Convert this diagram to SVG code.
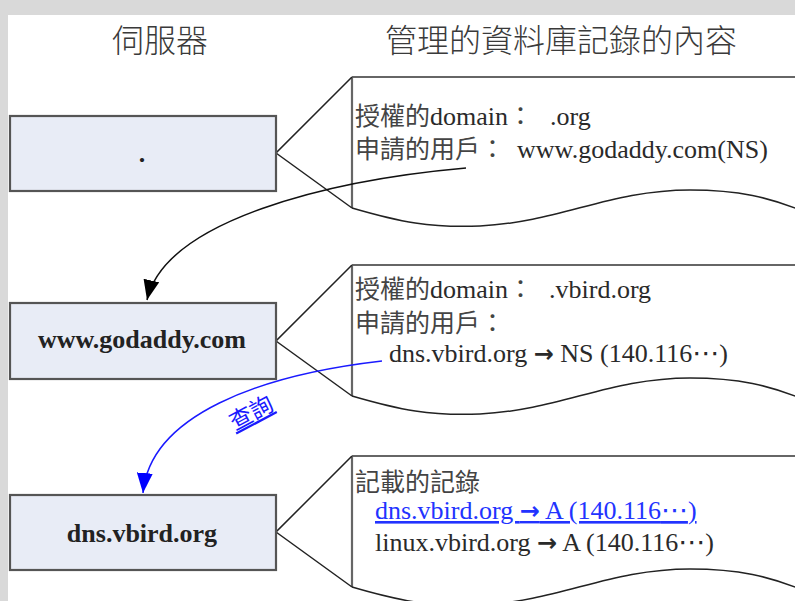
<svg xmlns="http://www.w3.org/2000/svg" width="795" height="601" viewBox="0 0 795 601">
<style>
.box{fill:#e8ecf6;stroke:#555;stroke-width:2.2}
.lbl{font-family:"Liberation Serif",serif;font-weight:bold;font-size:26px;fill:#222;text-anchor:middle}
.title{font-family:"Noto Sans CJK TC",sans-serif;font-size:32px;fill:#3a3a3a;font-weight:300}
.t{font-family:"Liberation Serif","Noto Sans CJK TC",serif;font-size:26px;fill:#2a2a2a}
.cjk{font-family:"Noto Sans CJK TC",sans-serif;font-size:25px;fill:#444}
.ar{font-family:"DejaVu Sans",sans-serif;font-weight:bold;font-size:24px}
.el{font-family:"DejaVu Sans",sans-serif;font-size:27px}
.co{fill:none;stroke:#222;stroke-width:1.5}
.edge{fill:none;stroke:#666;stroke-width:2.2}
.blk{fill:none;stroke:#111;stroke-width:1.5}
.blu{fill:none;stroke:#1a1aff;stroke-width:1.5}
</style>
<defs>
<marker id="ahk" viewBox="0 0 20 16" refX="20" refY="8" markerWidth="20" markerHeight="16" markerUnits="userSpaceOnUse" orient="auto"><path d="M0,0 L20,8 L0,16 z" fill="#000"/></marker>
<marker id="ahb" viewBox="0 0 20 16" refX="20" refY="8" markerWidth="20" markerHeight="16" markerUnits="userSpaceOnUse" orient="auto"><path d="M0,0 L20,8 L0,16 z" fill="#0000ff"/></marker>
<g id="callout">
<path class="edge" d="M352,77 H800 M352,77 V208"/>
<path class="co" d="M352,77 L276,153 L352,208"/>
<path class="co" d="M352,208 C400,222 430,228 480,226 C560,222 610,190 690,190 C740,190 770,198 800,210"/>
</g>
</defs>
<rect x="0" y="0" width="795" height="601" fill="#d9d9d9"/>
<rect x="8" y="15" width="787" height="586" fill="#fff"/>
<g id="titles">
<text class="title" x="160" y="52" text-anchor="middle">伺服器</text>
<text class="title" x="561" y="52" text-anchor="middle">管理的資料庫記錄的內容</text>
</g>
<g id="node-root">
<use href="#callout"/>
<rect class="box" x="10" y="116" width="266" height="75"/>
<text class="lbl" x="142" y="162">.</text>
<text class="t" x="355" y="125"><tspan class="cjk">授權的</tspan>domain<tspan class="cjk">：</tspan><tspan x="550">.org</tspan></text>
<text class="t" x="355" y="158"><tspan class="cjk">申請的用戶：</tspan><tspan x="517">www.godaddy.com(NS)</tspan></text>
</g>
<g id="node-godaddy">
<use href="#callout" transform="translate(0,188)"/>
<rect class="box" x="10" y="303" width="266" height="76"/>
<text class="lbl" x="142" y="348">www.godaddy.com</text>
<text class="t" x="355" y="298"><tspan class="cjk">授權的</tspan>domain<tspan class="cjk">：</tspan><tspan x="549">.vbird.org</tspan></text>
<text class="t" x="355" y="332"><tspan class="cjk">申請的用戶：</tspan></text>
<text class="t" x="389" y="362">dns.vbird.org <tspan class="ar">→</tspan> NS (140.116<tspan class="el">⋯</tspan>)</text>
</g>
<g id="node-dns">
<use href="#callout" transform="translate(0,379)"/>
<rect class="box" x="10" y="495" width="266" height="75"/>
<text class="lbl" x="142" y="542">dns.vbird.org</text>
<text class="t" x="355" y="491"><tspan class="cjk">記載的記錄</tspan></text>
<text class="t" x="375" y="519" style="fill:#2233ff;text-decoration:underline">dns.vbird.org <tspan class="ar">→</tspan> A (140.116<tspan class="el">⋯</tspan>)</text>
<text class="t" x="375" y="551">linux.vbird.org <tspan class="ar">→</tspan> A (140.116<tspan class="el">⋯</tspan>)</text>
</g>
<g id="connectors">
<path class="blk" d="M466,168 C330,180 165,220 147,300" marker-end="url(#ahk)"/>
<path class="blu" d="M382,361 C260,375 150,415 143,493" marker-end="url(#ahb)"/>
<text x="255" y="420" transform="rotate(-28 255 420)" text-anchor="middle" style="font-family:'Noto Sans CJK TC',sans-serif;font-size:23px;fill:#1a1aff;text-decoration:underline">查詢</text>
</g>
</svg>
